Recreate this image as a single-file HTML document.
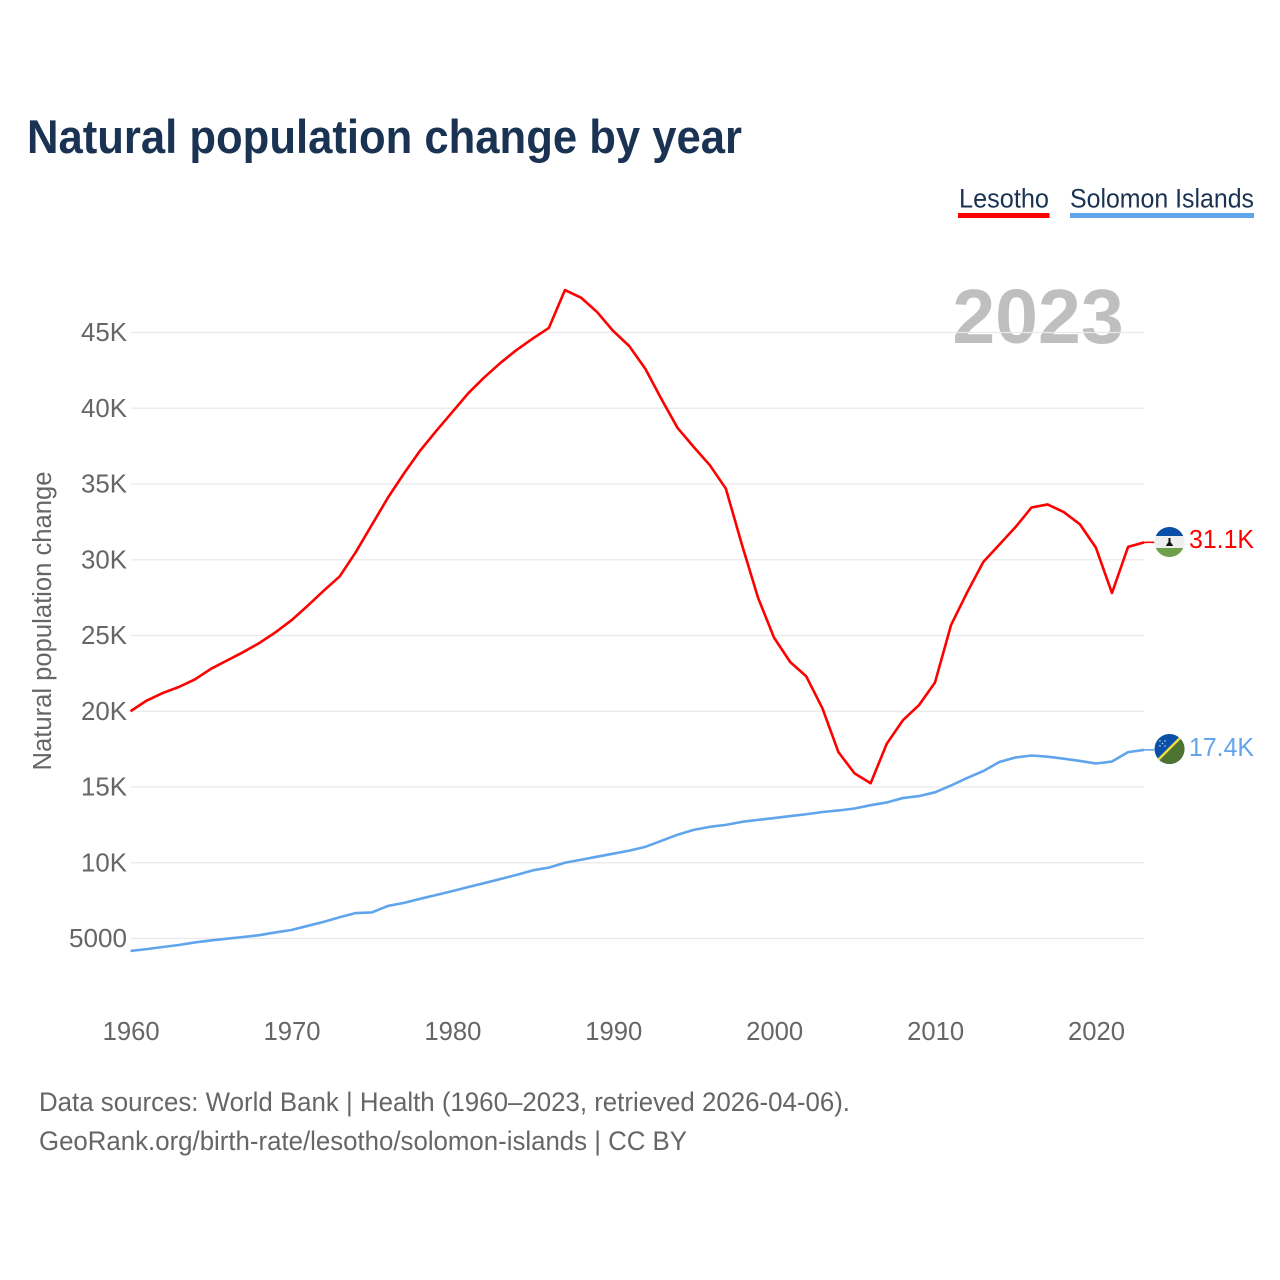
<!DOCTYPE html>
<html lang="en">
<head>
<meta charset="utf-8">
<title>Natural population change by year</title>
<style>
html,body{margin:0;padding:0;background:#fff;}
svg{display:block;}
text{font-family:"Liberation Sans",sans-serif;}
</style>
</head>
<body>
<svg id="chart" xmlns="http://www.w3.org/2000/svg" width="1280" height="1280" viewBox="0 0 1280 1280">
  <defs>
    <clipPath id="clip-ls"><circle cx="1169.500" cy="542" r="15"/></clipPath>
    <clipPath id="clip-sb"><circle cx="1169.500" cy="749" r="15"/></clipPath>
  </defs>
  <text x="27" y="153" font-size="47" font-weight="700" fill="#1a3353" textLength="715" lengthAdjust="spacingAndGlyphs">Natural population change by year</text>

  <g>
    <text x="959" y="207.500" font-size="27" fill="#1a3353" textLength="90" lengthAdjust="spacingAndGlyphs">Lesotho</text>
    <rect x="958" y="213" width="91.500" height="5" fill="#ff0000"/>
  </g>
  <g>
    <text x="1070" y="207.500" font-size="27" fill="#1a3353" textLength="184" lengthAdjust="spacingAndGlyphs">Solomon Islands</text>
    <rect x="1070" y="213" width="184" height="5" fill="#60a5ec"/>
  </g>

  <text x="1038" y="343" font-size="77" font-weight="700" fill="#bfbfbf" text-anchor="middle">2023</text>

  <g id="grid"></g>
  <g id="yticks"></g>
  <g id="xticks"></g>

  <text transform="translate(51 621) rotate(-90)" font-size="25.500" fill="#666666" text-anchor="middle" textLength="299" lengthAdjust="spacingAndGlyphs">Natural population change</text>

  <g id="series"></g>

  <g clip-path="url(#clip-ls)">
    <rect x="1154" y="526" width="31" height="32" fill="#eeeeee"/>
    <rect x="1154" y="526" width="31" height="10" fill="#0a50a8"/>
    <rect x="1154" y="548" width="31" height="10" fill="#6ea04c"/>
    <path d="M1168.500 538h2v4l2.500 3.500v0.500h-7v-0.500l2.500-3.500z" fill="#111111"/>
  </g>
  <g clip-path="url(#clip-sb)">
    <rect x="1154" y="734" width="31" height="30" fill="#0a50a8"/>
    <path d="M1154 764L1184.500 733.500V764Z" fill="#4c7430"/>
    <path d="M1154 764L1184.500 733.500" stroke="#f0dc40" stroke-width="2.400" fill="none"/>
    <g fill="#dfe8f5">
      <circle cx="1160" cy="741" r="0.700"/><circle cx="1165" cy="741" r="0.700"/>
      <circle cx="1162.500" cy="743.500" r="0.700"/><circle cx="1160" cy="746" r="0.700"/><circle cx="1165" cy="746" r="0.700"/>
    </g>
  </g>
  <text id="end-ls" x="1254" y="548" font-size="25.500" fill="#ff0000" text-anchor="end" textLength="65" lengthAdjust="spacingAndGlyphs">31.1K</text>
  <text id="end-sb" x="1254" y="756" font-size="25.500" fill="#60a5ec" text-anchor="end" textLength="65" lengthAdjust="spacingAndGlyphs">17.4K</text>

  <text x="39" y="1111" font-size="27" fill="#666666" textLength="811" lengthAdjust="spacingAndGlyphs">Data sources: World Bank | Health (1960–2023, retrieved 2026-04-06).</text>
  <text x="39" y="1150" font-size="27" fill="#666666" textLength="648" lengthAdjust="spacingAndGlyphs">GeoRank.org/birth-rate/lesotho/solomon-islands | CC BY</text>
</svg>
<script>
const years = [1960,1961,1962,1963,1964,1965,1966,1967,1968,1969,1970,1971,1972,1973,1974,1975,1976,1977,1978,1979,1980,1981,1982,1983,1984,1985,1986,1987,1988,1989,1990,1991,1992,1993,1994,1995,1996,1997,1998,1999,2000,2001,2002,2003,2004,2005,2006,2007,2008,2009,2010,2011,2012,2013,2014,2015,2016,2017,2018,2019,2020,2021,2022,2023];
const lesotho = [20000,20700,21200,21600,22100,22800,23350,23900,24500,25200,26000,26950,27950,28900,30500,32300,34100,35700,37200,38500,39750,41000,42050,43000,43850,44600,45300,47800,47300,46350,45100,44100,42600,40600,38700,37450,36250,34700,31000,27500,24850,23250,22300,20200,17300,15900,15250,17850,19400,20400,21900,25700,27850,29850,31000,32150,33450,33650,33150,32350,30800,27800,30850,31150];
const solomonIslands = [4180,4300,4440,4570,4740,4870,4990,5100,5220,5400,5560,5830,6100,6400,6680,6720,7150,7350,7620,7870,8130,8400,8660,8930,9200,9500,9680,10000,10200,10400,10600,10800,11050,11450,11850,12170,12370,12500,12700,12830,12950,13080,13200,13350,13450,13580,13800,13980,14270,14400,14650,15100,15600,16050,16650,16950,17080,17000,16870,16720,16550,16680,17300,17450];
const yTickValues = [5000,10000,15000,20000,25000,30000,35000,40000,45000];
const yTickLabels = ["5000","10K","15K","20K","25K","30K","35K","40K","45K"];
const xTickValues = [1960,1970,1980,1990,2000,2010,2020];
const xTickLabels = ["1960","1970","1980","1990","2000","2010","2020"];

const NS = 'http://www.w3.org/2000/svg';
function xScale(year){ return 130.5 + (year - 1960) * 16.09; }
function yScale(value){ return 938.5 - (value - 5000) * 0.01515; }

const gridG = document.getElementById('grid');
const yG = document.getElementById('yticks');
const xG = document.getElementById('xticks');
const seriesG = document.getElementById('series');

yTickValues.forEach(function(v, i){
  const line = document.createElementNS(NS, 'line');
  
  
  line.setAttribute('x1', 131);
  line.setAttribute('x2', 1144);
  line.setAttribute('y1', yScale(v));
  line.setAttribute('y2', yScale(v));
  line.setAttribute('stroke', '#e9e9e9');
  line.setAttribute('stroke-width', '1.300');
  gridG.appendChild(line);

  const t = document.createElementNS(NS, 'text');
  
  
  t.setAttribute('x', 127);
  t.setAttribute('y', yScale(v) + 8.5);
  t.setAttribute('font-size', '25.5');
  t.setAttribute('fill', '#666666');
  t.setAttribute('text-anchor', 'end');
  t.setAttribute('textLength', yTickLabels[i].length === 4 ? 58 : 46);
  t.setAttribute('lengthAdjust', 'spacingAndGlyphs');
  t.textContent = yTickLabels[i];
  yG.appendChild(t);
});

xTickValues.forEach(function(v, i){
  const t = document.createElementNS(NS, 'text');
  
  
  t.setAttribute('x', xScale(v) + 0.6);
  t.setAttribute('y', 1040);
  t.setAttribute('font-size', '25.5');
  t.setAttribute('fill', '#666666');
  t.setAttribute('text-anchor', 'middle');
  t.setAttribute('textLength', 57);
  t.setAttribute('lengthAdjust', 'spacingAndGlyphs');
  t.textContent = xTickLabels[i];
  xG.appendChild(t);
});

function drawSeries(values, color, name){
  const pts = values.map(function(v, i){ return xScale(years[i]).toFixed(2) + ',' + yScale(v).toFixed(2); });
  const line = document.createElementNS(NS, 'polyline');
  
  
  line.setAttribute('points', pts.join(' '));
  line.setAttribute('fill', 'none');
  line.setAttribute('stroke', color);
  line.setAttribute('stroke-width', '2.6');
  line.setAttribute('stroke-linejoin', 'round');
  seriesG.appendChild(line);

  const lastY = yScale(values[values.length - 1]);
  const lastX = xScale(years[years.length - 1]);
  const link = document.createElementNS(NS, 'line');
  
  
  link.setAttribute('x1', lastX);
  link.setAttribute('x2', lastX + 10);
  link.setAttribute('y1', lastY);
  link.setAttribute('y2', lastY);
  link.setAttribute('stroke', color);
  link.setAttribute('stroke-width', '1.6');
  seriesG.appendChild(link);
}
drawSeries(lesotho, '#ff0000', 'line-lesotho');
drawSeries(solomonIslands, '#60a5ec', 'line-solomon-islands');
</script>
</body>
</html>
